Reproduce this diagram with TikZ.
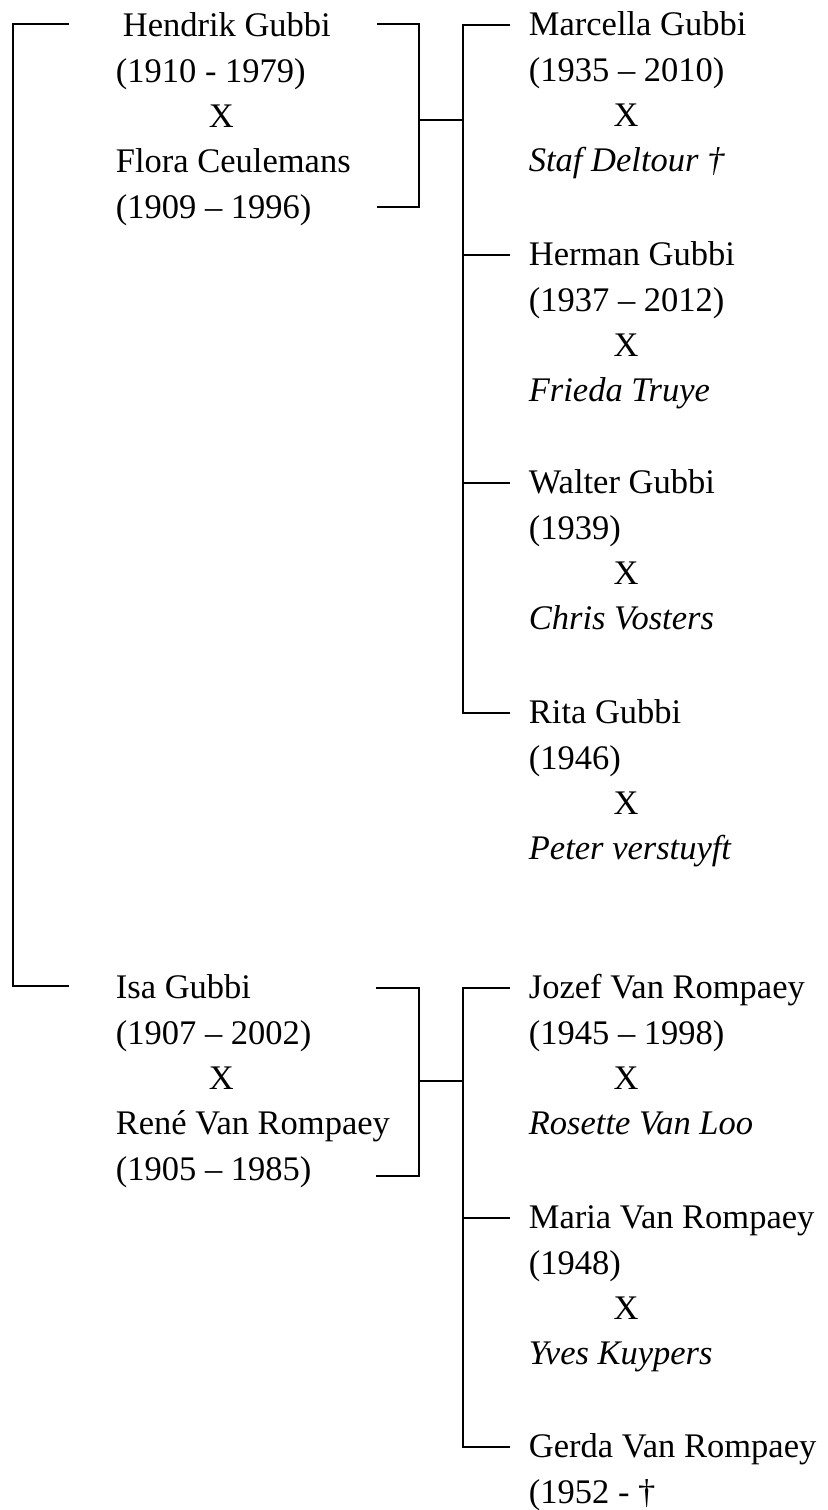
\documentclass[tikz,border=0pt]{standalone}
\usepackage{fontspec}
\setmainfont{Liberation Serif}

\newcommand{\treefont}{\fontsize{17.25pt}{22.65pt}\selectfont}
\newcommand{\marpar}{\hspace*{46.5pt}X}
\newcommand{\markid}{\hspace*{42.3pt}X}

\tikzset{
    parents/.style={anchor=north west, inner xsep=23.5pt, inner ysep=0pt, align=left, font=\treefont},
    kid/.style={parents, inner xsep=9.5pt},
}

\begin{document}
\begin{tikzpicture}[x=0.5pt, y=-0.5pt, line width=0.9pt, line cap=rect]
    \useasboundingbox (0,0) rectangle (828,1510);
    % the two couples
    \path (68, 4.3) node [parents] (hendrik) {\strut\hspace*{3.5pt}Hendrik Gubbi\\(1910 - 1979)\\\marpar\\Flora Ceulemans\\(1909 – 1996)};
    \path (68, 966.3) node [parents] (isa) {\strut Isa Gubbi\\(1907 – 2002)\\\marpar\\René Van Rompaey\\(1905 – 1985)};
    \draw ([yshift=-10pt]hendrik.north west) -- ++(-27.5pt,0) |- ([yshift=-10pt]isa.north west);
    % children of hendrik and flora
    \path (509, 3.3) node [kid] (marcella) {\strut Marcella Gubbi\\(1935 – 2010)\\\markid\\\textit{Staf Deltour †}};
    \path (509, 233.3) node [kid] (herman) {\strut Herman Gubbi\\(1937 – 2012)\\\markid\\\textit{Frieda Truye}};
    \path (509, 461.3) node [kid] (walter) {\strut Walter Gubbi\\(1939)\\\markid\\\textit{Chris Vosters}};
    \path (509, 691.3) node [kid] (rita) {\strut Rita Gubbi\\(1946)\\\markid\\\textit{Peter verstuyft}};
    % children of isa and rene
    \path (509, 966.3) node [kid] (jozef) {\strut Jozef Van Rompaey\\(1945 – 1998)\\\markid\\\textit{Rosette Van Loo}};
    \path (509, 1196.3) node [kid] (maria) {\strut Maria Van Rompaey\\(1948)\\\markid\\\textit{Yves Kuypers}};
    \path (509, 1425.3) node [kid] (gerda) {\strut Gerda Van Rompaey\\(1952 - †};
    \foreach \who in {marcella,herman,walter,rita,jozef,maria,gerda}
        \draw ([yshift=-11pt]\who.north west) -- ++(-23pt,0) coordinate (\who-in);
    \draw (marcella-in) -- (rita-in);
    \draw (jozef-in) -- (gerda-in);
    % brackets of the couples
    \coordinate (hft) at (378,24);
    \coordinate (hfb) at (378,207);
    \coordinate (hf) at (419,120);
    \draw (hft) -| (hf) |- (hfb);
    \draw (hf) -- (hf -| marcella-in);
    \coordinate (irt) at (377,988);
    \coordinate (irb) at (377,1176);
    \coordinate (ir) at (419,1081);
    \draw (irt) -| (ir) |- (irb);
    \draw (ir) -- (ir -| jozef-in);
\end{tikzpicture}
\end{document}
